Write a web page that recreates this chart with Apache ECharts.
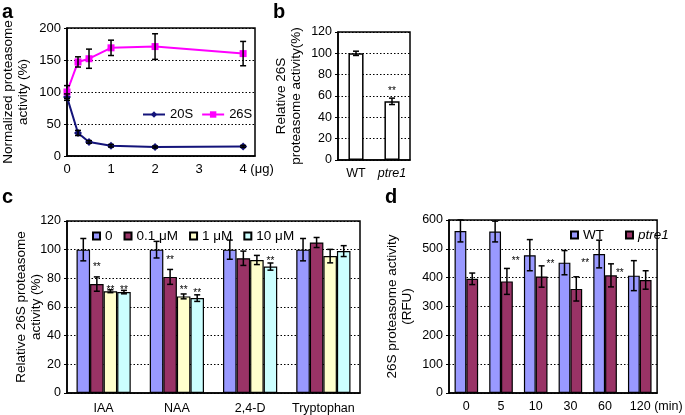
<!DOCTYPE html>
<html><head><meta charset="utf-8">
<script src="https://cdn.jsdelivr.net/npm/echarts@6/dist/echarts.min.js"></script>
<style>html,body{margin:0;padding:0;background:#fff}#c{width:685px;height:415px}</style>
</head><body><div id="c"></div>
<script>
// ---------- Panel a ----------
const aDoses = [0, 0.25, 0.5, 1, 2, 4];
const a20S = [92, 36, 22, 16, 14, 15];
const a20SErr = [5, 4, 2, 2, 1.5, 1.5];
const a26S = [100, 147, 152, 169, 171, 160];
const a26SErr = [10, 8, 15, 12, 20, 19];
// ---------- Panel b ----------
const bCats = ['WT', 'ptre1'];
const bVals = [100, 55];
const bErr = [2, 3];
const bStars = [null, 66];
// ---------- Panel c ----------
const cCats = ['IAA', 'NAA', '2,4-D', 'Tryptophan'];
const cNames = ['0', '0.1 μM', '1 μM', '10 μM'];
const c0 = [100, 100, 100, 100];
const c0Err = [7.8, 5.8, 6.7, 7.8];
const c01 = [76, 81, 94, 105];
const c01Err = [5, 5.2, 5, 3.5];
const c1 = [71, 67.4, 92.8, 95.5];
const c1Err = [1, 1.7, 3.2, 4.7];
const c10 = [70.4, 66.2, 88.2, 99];
const c10Err = [1.2, 2.3, 2.5, 3.8];
const c01Stars = [89, 94, null, null];
const c1Stars = [73, 73, null, null];
const c10Stars = [73, 71, 93, null];
// ---------- Panel d ----------
const dCats = ['0', '5', '10', '30', '60', '120'];
const dWT = [562, 560, 478, 452, 482, 407];
const dWTErr = [38, 36, 54, 42, 48, 52];
const dP = [396, 387, 404, 361, 408, 392];
const dPErr = [20, 45, 37, 42, 40, 32];
const dStars = [null, 463, 455, 458, 423, null];

const FONT = 'Liberation Sans, Arial, sans-serif';
const C_BLUE = '#9999FF', C_MAROON = '#993366', C_YEL = '#FFFFCC', C_CYAN = '#CCFFFF';
const GAP_C = 0.26, GAP_D = 0.32, GAP_B = 0.58;

function errSeries(gi, xs, vals, errs, pos, n, gap) {
  return {
    type: 'custom', xAxisIndex: gi, yAxisIndex: gi, z: 10, silent: true,
    data: vals.map((v, i) => [xs[i], v, errs[i]]),
    renderItem: function (params, api) {
      const xv = api.value(0), v = api.value(1), e = api.value(2);
      let x = api.coord([xv, v])[0];
      if (n) {
        const band = api.size([1, 0])[0];
        const bw = band * (1 - gap) / n;
        x += (pos - (n - 1) / 2) * bw;
      }
      const yt = api.coord([xv, v + e])[1], yb = api.coord([xv, v - e])[1];
      const cap = 3, st = { stroke: '#000', lineWidth: 1.5 };
      return { type: 'group', children: [
        { type: 'line', shape: { x1: x, y1: yt, x2: x, y2: yb }, style: st },
        { type: 'line', shape: { x1: x - cap, y1: yt, x2: x + cap, y2: yt }, style: st },
        { type: 'line', shape: { x1: x - cap, y1: yb, x2: x + cap, y2: yb }, style: st }
      ]};
    }
  };
}
function starSeries(gi, stars, pos, n, gap, shift) {
  const data = [];
  stars.forEach((v, i) => { if (v != null) data.push([i, v]); });
  return {
    type: 'custom', xAxisIndex: gi, yAxisIndex: gi, z: 11, silent: true, data: data,
    renderItem: function (params, api) {
      const p = api.coord([api.value(0), api.value(1)]);
      const band = api.size([1, 0])[0];
      const bw = band * (1 - gap) / n;
      const x = p[0] + (pos - (n - 1) / 2 + (shift || 0)) * bw;
      return { type: 'text', x: x, y: p[1] + 2, style: { text: '**', fill: '#000', font: '10px ' + FONT, align: 'center', verticalAlign: 'middle' } };
    }
  };
}

const tickLbl = { color: '#000', fontFamily: FONT, fontSize: 12.5 };
const nameStyle = { color: '#000', fontFamily: FONT, fontSize: 13.5, lineHeight: 15 };
const dotted = { show: true, lineStyle: { color: '#000', type: [1.5, 2], width: 1 } };
const axLine = { show: true, lineStyle: { color: '#000', width: 1.5 } };
const tickOut = { show: true, length: 3, lineStyle: { color: '#000', width: 1 } };

function yAx(gi, max, interval, name, gap, fs) {
  return {
    type: 'value', gridIndex: gi, min: 0, max: max, interval: interval,
    axisLine: axLine, axisTick: tickOut, splitLine: dotted,
    axisLabel: Object.assign({}, tickLbl, { margin: 6, fontSize: fs || 12.5 }),
    name: name, nameLocation: 'middle', nameGap: gap, nameTextStyle: nameStyle,
    nameMoveOverlap: false
  };
}

const chart = echarts.init(document.getElementById('c'), null, { renderer: 'canvas' });

const option = {
  animation: false,
  backgroundColor: '#fff',
  textStyle: { fontFamily: FONT },
  grid: [
    { left: 66, top: 28, width: 189, height: 128, show: true, borderColor: '#000', borderWidth: 1.5, backgroundColor: 'transparent' },
    { left: 338, top: 32, width: 72, height: 128, show: true, borderColor: '#000', borderWidth: 1.5, backgroundColor: 'transparent' },
    { left: 67, top: 221, width: 293, height: 173, show: true, borderColor: '#000', borderWidth: 1.5, backgroundColor: 'transparent' },
    { left: 449, top: 220, width: 216, height: 173, show: true, borderColor: '#000', borderWidth: 1.5, backgroundColor: 'transparent' }
  ],
  xAxis: [
    { type: 'value', gridIndex: 0, min: 0, max: 4.27, interval: 1,
      axisLine: axLine, axisTick: { show: false }, splitLine: { show: false },
      axisLabel: Object.assign({}, tickLbl, { fontSize: 13, margin: 7,
        formatter: function (v) {
          if (Math.abs(v - Math.round(v)) > 1e-6) return '';
          return v === 4 ? '{p|}4 (μg)' : String(v);
        },
        rich: { p: { width: 27 } } }) },
    { type: 'category', gridIndex: 1, data: bCats,
      axisLine: axLine, axisTick: { show: false }, splitLine: { show: false },
      axisLabel: Object.assign({}, tickLbl, { margin: 7, interval: 0, hideOverlap: false,
        formatter: function (v) { return v === 'ptre1' ? '{i|ptre1}' : v; },
        rich: { i: { fontStyle: 'italic', fontFamily: FONT, fontSize: 12.5, color: '#000' } } }) },
    { type: 'category', gridIndex: 2, data: cCats,
      axisLine: axLine, axisTick: { show: false }, splitLine: { show: false },
      axisLabel: Object.assign({}, tickLbl, { margin: 9, interval: 0 }) },
    { type: 'category', gridIndex: 3, data: dCats,
      axisLine: axLine, axisTick: { show: false }, splitLine: { show: false },
      axisLabel: Object.assign({}, tickLbl, { margin: 7, interval: 0,
        formatter: function (v) { return v === '120' ? '{p|}120 (min)' : v; },
        rich: { p: { width: 33 } } }) }
  ],
  yAxis: [
    yAx(0, 200, 50, 'Normalized proteasome\nactivity (%)', 36, 13),
    yAx(1, 120, 20, 'Relative 26S\nproteasome activity(%)', 34, 12.5),
    yAx(2, 120, 20, 'Relative 26S proteasome\nactivity (%)', 23, 12.5),
    yAx(3, 600, 100, '26S proteasome activity\n(RFU)', 34, 12.5)
  ],
  legend: [
    { data: ['20S', '26S'], left: 137, top: 103, itemWidth: 22, itemHeight: 8, itemGap: 8,
      textStyle: { color: '#000', fontFamily: FONT, fontSize: 13 } },
    { data: cNames, left: 87, top: 224, icon: 'rect', itemWidth: 7, itemHeight: 7, itemGap: 11,
      textStyle: { color: '#000', fontFamily: FONT, fontSize: 13.5 } },
    { data: ['WT', 'ptre1'], left: 565, top: 223, icon: 'rect', itemWidth: 7, itemHeight: 7, itemGap: 21,
      formatter: function (n) { return n === 'ptre1' ? '{i|ptre1}' : n; },
      textStyle: { color: '#000', fontFamily: FONT, fontSize: 13.5,
        rich: { i: { fontStyle: 'italic', fontFamily: FONT, fontSize: 13.5, color: '#000' } } } }
  ],
  graphic: [
    { type: 'text', left: 2, top: 2, style: { text: 'a', font: 'bold 20px ' + FONT, fill: '#000' } },
    { type: 'text', left: 273, top: 2, style: { text: 'b', font: 'bold 20px ' + FONT, fill: '#000' } },
    { type: 'text', left: 2, top: 187, style: { text: 'c', font: 'bold 20px ' + FONT, fill: '#000' } },
    { type: 'text', left: 385, top: 187, style: { text: 'd', font: 'bold 20px ' + FONT, fill: '#000' } }
  ],
  series: [
    // panel a
    { name: '20S', type: 'line', xAxisIndex: 0, yAxisIndex: 0, data: aDoses.map((x, i) => [x, a20S[i]]),
      symbol: 'diamond', symbolSize: 8, color: '#14147a', lineStyle: { width: 2 }, z: 3 },
    { name: '26S', type: 'line', xAxisIndex: 0, yAxisIndex: 0, data: aDoses.map((x, i) => [x, a26S[i]]),
      symbol: 'rect', symbolSize: 7, color: '#FF00FF', lineStyle: { width: 2 }, z: 3 },
    errSeries(0, aDoses, a20S, a20SErr, 0, 0, 0),
    errSeries(0, aDoses, a26S, a26SErr, 0, 0, 0),
    // panel b
    { name: 'b', type: 'bar', xAxisIndex: 1, yAxisIndex: 1, data: bVals, barCategoryGap: (GAP_B * 100) + '%',
      itemStyle: { color: '#fff', borderColor: '#000', borderWidth: 1.5 } },
    errSeries(1, [0, 1], bVals, bErr, 0, 1, GAP_B),
    starSeries(1, bStars, 0, 1, GAP_B, 0),
    // panel c
    ...[[c0, C_BLUE], [c01, C_MAROON], [c1, C_YEL], [c10, C_CYAN]].map((s, k) => ({
      name: cNames[k], type: 'bar', xAxisIndex: 2, yAxisIndex: 2, data: s[0],
      barGap: 0, barCategoryGap: (GAP_C * 100) + '%',
      itemStyle: { color: s[1], borderColor: '#000', borderWidth: 1.2 } })),
    errSeries(2, [0, 1, 2, 3], c0, c0Err, 0, 4, GAP_C),
    errSeries(2, [0, 1, 2, 3], c01, c01Err, 1, 4, GAP_C),
    errSeries(2, [0, 1, 2, 3], c1, c1Err, 2, 4, GAP_C),
    errSeries(2, [0, 1, 2, 3], c10, c10Err, 3, 4, GAP_C),
    starSeries(2, c01Stars, 1, 4, GAP_C, 0),
    starSeries(2, c1Stars, 2, 4, GAP_C, 0),
    starSeries(2, c10Stars, 3, 4, GAP_C, 0),
    // panel d
    { name: 'WT', type: 'bar', xAxisIndex: 3, yAxisIndex: 3, data: dWT, barGap: 0, barCategoryGap: (GAP_D * 100) + '%',
      itemStyle: { color: C_BLUE, borderColor: '#000', borderWidth: 1.2 } },
    { name: 'ptre1', type: 'bar', xAxisIndex: 3, yAxisIndex: 3, data: dP, barGap: 0, barCategoryGap: (GAP_D * 100) + '%',
      itemStyle: { color: C_MAROON, borderColor: '#000', borderWidth: 1.2 } },
    errSeries(3, [0, 1, 2, 3, 4, 5], dWT, dWTErr, 0, 2, GAP_D),
    errSeries(3, [0, 1, 2, 3, 4, 5], dP, dPErr, 1, 2, GAP_D),
    starSeries(3, dStars, 1, 2, GAP_D, 0.75)
  ]
};
chart.setOption(option);
</script>
</body></html>
